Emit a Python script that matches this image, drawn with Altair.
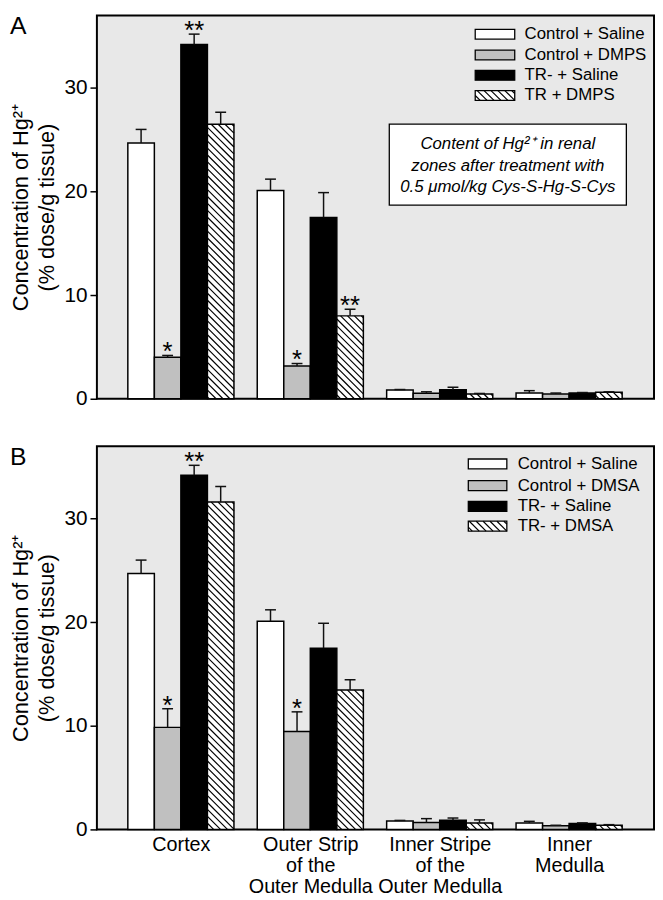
import json
import altair as alt
import numpy as np
import pandas as pd

# ---------------- data ----------------
REGION_LINES = [["Cortex"], ["Outer Strip", "of the", "Outer Medulla"],
                ["Inner Stripe", "of the", "Outer Medulla"], ["Inner", "Medulla"]]

SERIES_A = ["Control + Saline", "Control + DMPS", "TR- + Saline", "TR + DMPS"]
SERIES_B = ["Control + Saline", "Control + DMSA", "TR- + Saline", "TR- + DMSA"]

# Panel A (DMPS): means and SEM per region (Cortex, OSOM, ISOM, IM)
A_CTRL_SALINE = [24.7, 20.1, 0.84, 0.56]
A_CTRL_DMPS = [4.0, 3.15, 0.52, 0.45]
A_TR_SALINE = [34.2, 17.5, 0.86, 0.55]
A_TR_DMPS = [26.5, 8.0, 0.46, 0.62]
A_CTRL_SALINE_ERR = [1.3, 1.1, 0.05, 0.22]
A_CTRL_DMPS_ERR = [0.18, 0.25, 0.15, 0.1]
A_TR_SALINE_ERR = [1.0, 2.4, 0.25, 0.05]
A_TR_DMPS_ERR = [1.15, 0.65, 0.05, 0.05]
A_STARS = [(0, 1, "*"), (0, 2, "**"), (1, 1, "*"), (1, 3, "**")]

# Panel B (DMSA)
B_CTRL_SALINE = [24.7, 20.1, 0.82, 0.63]
B_CTRL_DMSA = [9.85, 9.45, 0.66, 0.35]
B_TR_SALINE = [34.2, 17.5, 0.88, 0.57]
B_TR_DMSA = [31.6, 13.45, 0.63, 0.41]
B_CTRL_SALINE_ERR = [1.3, 1.1, 0.05, 0.15]
B_CTRL_DMSA_ERR = [1.8, 1.9, 0.38, 0.05]
B_TR_SALINE_ERR = [0.95, 2.4, 0.22, 0.06]
B_TR_DMSA_ERR = [1.5, 1.0, 0.29, 0.05]
B_STARS = [(0, 1, "*"), (0, 2, "**"), (1, 1, "*")]

NOTE_A = "Content of Hg²⁺ in renal\nzones after treatment with\n0.5 μmol/kg Cys-S-Hg-S-Cys"

# ---------------- layout / style ----------------
FONT = "Liberation Sans"
W = 564
HA = 388
HB = 388
X_MIN, X_MAX = -0.649, 3.656
Y_MAX = 37
BAR_W = 0.205
PXX = W / (X_MAX - X_MIN)
HATCH_STEP = 7.0
FILLS = ["white", "#c0c0c0", "black", "white"]
BG = "#e8e8e8"

XS = alt.Scale(domain=[X_MIN, X_MAX], nice=False, zero=False)
YS = alt.Scale(domain=[0, Y_MAX], nice=False, zero=True)
FS = alt.Scale(domain=[0, 1, 2, 3], range=FILLS)


def hatch(x0, x1, ytop, ybot, pxy, phase=2.0):
    wpx = (x1 - x0) * PXX
    hpx = (ytop - ybot) * pxy
    segs = []
    for c in np.arange(-wpx + phase, hpx, HATCH_STEP):
        xs = max(0.0, -c)
        xe = min(wpx, hpx - c)
        if xe - xs > 0.3:
            segs.append(dict(hx0=x0 + xs / PXX, hy0=ytop - (xs + c) / pxy,
                             hx1=x0 + xe / PXX, hy1=ytop - (xe + c) / pxy))
    return segs


def panel(series, means, errs, stars, H, leg, letter, note=None, show_x=False):
    pxy = H / Y_MAX
    rows = []
    for s, name in enumerate(series):
        for g in range(4):
            x0 = g + (s - 2) * BAR_W
            rows.append(dict(sidx=s, series=name, g=g, x0=x0, x1=x0 + BAR_W,
                             xc=x0 + BAR_W / 2, value=means[s][g],
                             top=means[s][g] + errs[s][g], base=0.0))
    bars = pd.DataFrame(rows)

    hsegs = []
    for r in rows:
        if r["sidx"] == 3:
            hsegs += hatch(r["x0"], r["x1"], r["value"], 0.0, pxy)

    # legend geometry (pixel layout converted to data units)
    lrows = []
    for s, name in enumerate(series):
        yc = leg["rows"][s]
        d = dict(sidx=s, label=name,
                 lx0=X_MIN + leg["box_x0"] / PXX, lx1=X_MIN + leg["box_x1"] / PXX,
                 ly0=Y_MAX - (yc - 5) / pxy, ly1=Y_MAX - (yc + 5) / pxy,
                 tx=X_MIN + leg["text_x"] / PXX, ty=Y_MAX - yc / pxy)
        lrows.append(d)
        if s == 3:
            hsegs += hatch(d["lx0"], d["lx1"], d["ly0"], d["ly1"], pxy, phase=3.0)
    leg_df = pd.DataFrame(lrows)
    hatch_df = pd.DataFrame(hsegs)

    star_df = pd.DataFrame([dict(xc=bars[(bars.g == g) & (bars.sidx == s)].xc.iloc[0],
                                 top=bars[(bars.g == g) & (bars.sidx == s)].top.iloc[0],
                                 star=t) for g, s, t in stars])

    if show_x:
        expr = " : ".join(
            f"datum.value == {i} ? {json.dumps(lines)}" for i, lines in enumerate(REGION_LINES[:-1])
        ) + f" : {json.dumps(REGION_LINES[-1])}"
        xaxis = alt.Axis(values=[0, 1, 2, 3], labelExpr=expr, ticks=False, domain=False,
                         grid=False, title=None, labelFontSize=20, labelPadding=5,
                         labelLineHeight=21.5, labelFlush=False, labelOverlap=False,
                         labelColor="black")
    else:
        xaxis = None
    yaxis = alt.Axis(values=[0, 10, 20, 30], grid=False, domain=False, tickSize=7,
                     tickWidth=1.5, tickColor="black", labelFontSize=21, labelPadding=3,
                     labelColor="black",
                     title=["Concentration of Hg²⁺", "(% dose/g tissue)"], titleFontSize=22,
                     titleFontWeight="normal", titlePadding=6, titleLineHeight=26,
                     titleColor="black")

    def X(f):
        return alt.X(f, scale=XS, axis=xaxis)

    def Y(f):
        return alt.Y(f, scale=YS, axis=yaxis)

    base_bars = alt.Chart(bars).mark_rect(stroke="black", strokeWidth=1.5).encode(
        x=X("x0:Q"), x2="x1:Q", y=Y("value:Q"), y2="base:Q",
        fill=alt.Fill("sidx:N", scale=FS, legend=None),
    )
    leg_rect = alt.Chart(leg_df).mark_rect(stroke="black", strokeWidth=1.3).encode(
        x=X("lx0:Q"), x2="lx1:Q", y=Y("ly0:Q"), y2="ly1:Q",
        fill=alt.Fill("sidx:N", scale=FS, legend=None),
    )
    hatch_layer = alt.Chart(hatch_df).mark_rule(stroke="black", strokeWidth=1.2).encode(
        x=X("hx0:Q"), x2="hx1:Q", y=Y("hy0:Q"), y2="hy1:Q",
    )
    stem = alt.Chart(bars).mark_rule(stroke="#111", strokeWidth=1.5).encode(
        x=X("xc:Q"), y=Y("value:Q"), y2="top:Q",
    )
    cap = alt.Chart(bars).mark_tick(orient="horizontal", size=11, thickness=1.5,
                                    color="#111", opacity=1).encode(
        x=X("xc:Q"), y=Y("top:Q"),
    )
    star_layer = alt.Chart(star_df).mark_text(fontSize=26, baseline="alphabetic", dy=5,
                                              color="black").encode(
        x=X("xc:Q"), y=Y("top:Q"), text="star:N",
    )
    leg_text = alt.Chart(leg_df).mark_text(align="left", baseline="middle", fontSize=17,
                                           color="black").encode(
        x=X("tx:Q"), y=Y("ty:Q"), text="label:N",
    )
    letter_layer = alt.Chart(pd.DataFrame({"t": [letter]})).mark_text(
        align="left", baseline="alphabetic", fontSize=25, color="black").encode(
        x=alt.value(-88), y=alt.value(19), text="t:N")

    layers = [base_bars, leg_rect, hatch_layer, stem, cap, leg_text, star_layer, letter_layer]
    if note is not None:
        box = alt.Chart(pd.DataFrame({"t": [note]})).mark_rect(
            fill="white", stroke="black", strokeWidth=1.3).encode(
            x=alt.value(296), x2=alt.value(536), y=alt.value(110), y2=alt.value(192))
        txt = alt.Chart(pd.DataFrame({"t": [note]})).mark_text(
            lineBreak="\n", fontStyle="italic", fontSize=17, lineHeight=22,
            align="center", baseline="middle", color="black").encode(
            x=alt.value(416), y=alt.value(130), text="t:N")
        layers += [box, txt]
    return alt.layer(*layers).properties(width=W, height=H)


panel_a = panel(
    SERIES_A,
    [A_CTRL_SALINE, A_CTRL_DMPS, A_TR_SALINE, A_TR_DMPS],
    [A_CTRL_SALINE_ERR, A_CTRL_DMPS_ERR, A_TR_SALINE_ERR, A_TR_DMPS_ERR],
    A_STARS, HA,
    dict(box_x0=383, box_x1=423, text_x=433, rows=[19, 40, 60.5, 81]),
    "A", note=NOTE_A, show_x=False,
)
panel_b = panel(
    SERIES_B,
    [B_CTRL_SALINE, B_CTRL_DMSA, B_TR_SALINE, B_TR_DMSA],
    [B_CTRL_SALINE_ERR, B_CTRL_DMSA_ERR, B_TR_SALINE_ERR, B_TR_DMSA_ERR],
    B_STARS, HB,
    dict(box_x0=376, box_x1=415, text_x=426, rows=[18, 40, 61, 81]),
    "B", show_x=True,
)

chart = alt.vconcat(panel_a, panel_b, spacing=35).properties(
    padding={"left": 0, "top": 0, "right": 0, "bottom": 6}
).configure(font=FONT, background="white").configure_view(
    stroke="black", strokeWidth=2, fill=BG
)

chart.save("out.html", embed_options={"renderer": "svg", "actions": False})
